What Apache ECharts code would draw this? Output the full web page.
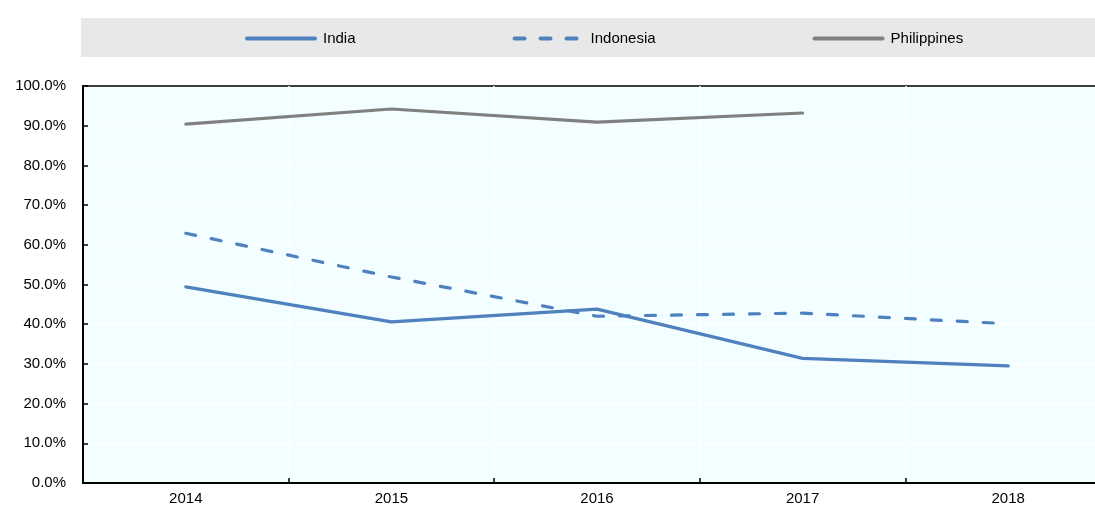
<!DOCTYPE html>
<html>
<head>
<meta charset="utf-8">
<script src="https://cdn.jsdelivr.net/npm/echarts@6/dist/echarts.min.js"></script>
<style>
html,body{margin:0;padding:0;background:#fff;overflow:hidden;width:1095px;height:506px;}
#chart{width:1111px;height:506px;}
</style>
</head>
<body>
<div id="chart"></div>
<script>
const categories = ['2014', '2015', '2016', '2017', '2018'];
const india = [49.4, 40.6, 43.8, 31.4, 29.5];
const indonesia = [62.9, 51.9, 42.0, 42.8, 40.1];
const philippines = [90.4, 94.2, 90.9, 93.2, null];
const yTicks = { min: 0, max: 100, interval: 10 };

const FONT = 'Liberation Sans, Arial, sans-serif';
const chart = echarts.init(document.getElementById('chart'), null, { renderer: 'canvas' });

function lineSeries(name, data, color, dashed) {
  return {
    name: name,
    type: 'line',
    data: data,
    symbol: 'none',
    showSymbol: false,
    connectNulls: false,
    lineStyle: { color: color, width: 3.2, type: dashed ? [10, 16] : 'solid', cap: 'round', join: 'round' },
    itemStyle: { color: color },
    z: 3
  };
}

chart.setOption({
  animation: false,
  backgroundColor: '#fff',
  graphic: [{
    type: 'rect',
    shape: { x: 81, y: 18, width: 1014, height: 39 },
    style: { fill: '#E8E8E8' },
    z: -10
  }],
  legend: {
    left: 240,
    top: 26,
    itemWidth: 68,
    itemHeight: 4,
    itemGap: 157,
    itemStyle: { opacity: 0 },
    lineStyle: { width: 4, cap: 'round' },
    textStyle: { fontFamily: FONT, fontSize: 15, color: '#000', padding: [0, 0, 0, 3] },
    data: ['India', 'Indonesia', 'Philippines']
  },
  grid: {
    left: 83, top: 86, bottom: 23, right: 0,
    show: true,
    backgroundColor: '#F2FEFF',
    borderColor: '#000',
    borderWidth: 1.5
  },
  xAxis: {
    type: 'category',
    data: categories,
    boundaryGap: true,
    axisLine: { lineStyle: { color: '#000', width: 2 } },
    axisTick: { show: true, inside: true, length: 5, lineStyle: { color: '#000', width: 1.5 } },
    axisLabel: { fontFamily: FONT, fontSize: 15, color: '#000', margin: 8 },
    splitLine: { show: true, showMinLine: false, showMaxLine: false, lineStyle: { color: '#fff', width: 1.5 } }
  },
  yAxis: {
    type: 'value',
    min: yTicks.min, max: yTicks.max, interval: yTicks.interval,
    axisLine: { show: true, lineStyle: { color: '#000', width: 2 } },
    axisTick: { show: true, inside: true, length: 5, lineStyle: { color: '#000', width: 1.5 } },
    axisLabel: { fontFamily: FONT, fontSize: 15, color: '#000', margin: 17, formatter: v => v.toFixed(1) + '%' },
    splitLine: { show: true, showMinLine: false, showMaxLine: false, lineStyle: { color: '#fff', width: 1.5 } }
  },
  series: [
    lineSeries('India', india, '#4E81BD', false),
    lineSeries('Indonesia', indonesia, '#4E81BD', true),
    lineSeries('Philippines', philippines, '#808080', false)
  ]
});
</script>
</body>
</html>
